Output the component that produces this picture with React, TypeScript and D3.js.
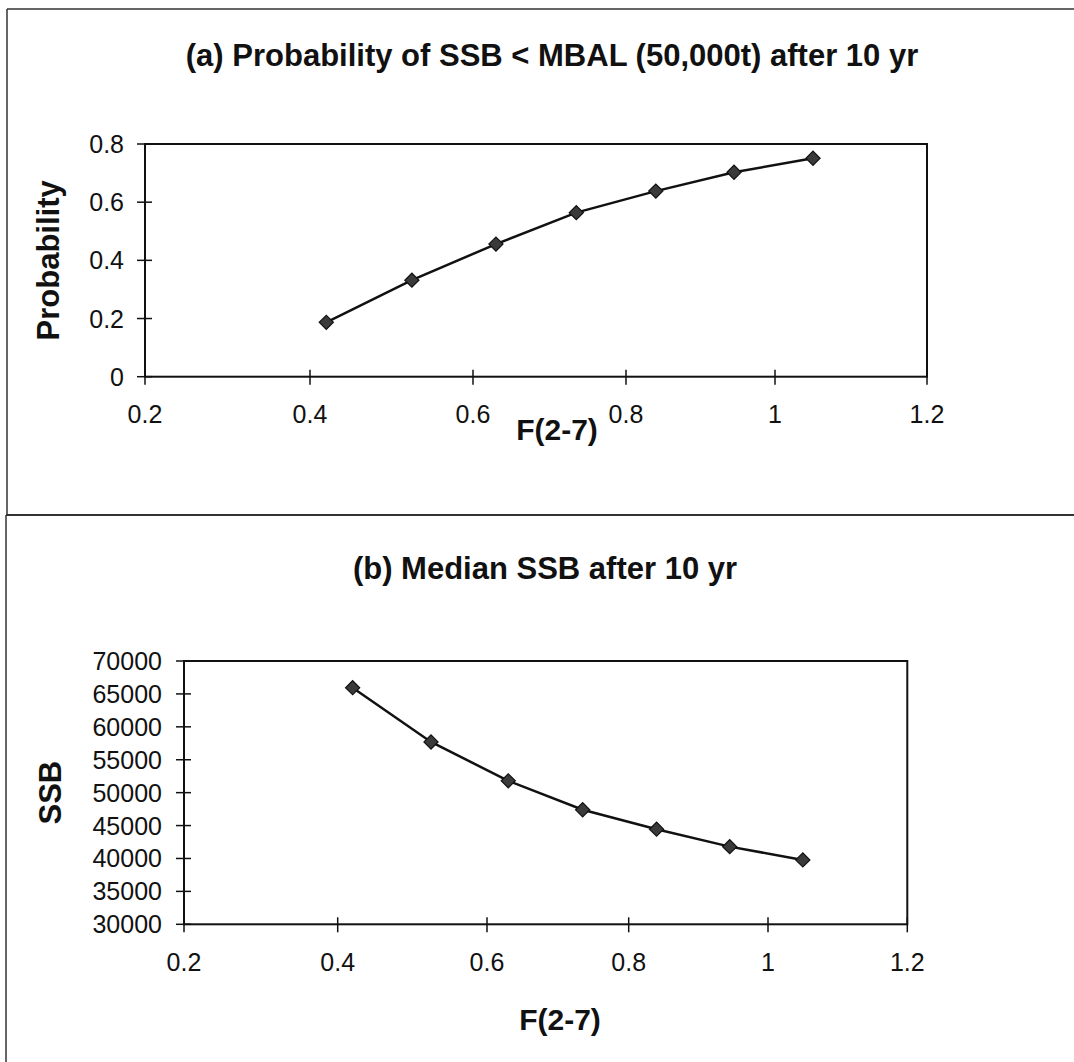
import React from "react";
import * as d3 from "d3";

const fValues = [0.42, 0.525, 0.63, 0.735, 0.84, 0.945, 1.05];
const probValues = [0.187, 0.332, 0.456, 0.564, 0.638, 0.703, 0.751];
const ssbValues = [65950, 57700, 51800, 47400, 44450, 41800, 39780];
const xTicks = [0.2, 0.4, 0.6, 0.8, 1.0, 1.2];
const probTicks = [0, 0.2, 0.4, 0.6, 0.8];
const ssbTicks = [30000, 35000, 40000, 45000, 50000, 55000, 60000, 65000, 70000];
const titleA = "(a) Probability of SSB < MBAL (50,000t) after 10 yr";
const titleB = "(b) Median SSB after 10 yr";
const xLabel = "F(2-7)";
const yLabelA = "Probability";
const yLabelB = "SSB";

const FONT = "'Liberation Sans', Arial, Helvetica, sans-serif";

type PanelProps = {
  title: string;
  titleX: number;
  titleY: number;
  xRange: number[];
  yRange: [number, number];
  yDomain: [number, number];
  yTicks: number[];
  yFmt: (v: number) => string;
  values: number[];
  yLabel: string;
  yLabelX: number;
  tickLabelRight: number;
  xTickBaseline: number;
  xLabelX: number;
  xLabelY: number;
};

function Panel(p: PanelProps) {
  const x = d3.scaleLinear().domain(xTicks).range(p.xRange);
  const y = d3.scaleLinear().domain(p.yDomain).range(p.yRange);
  const left = x(xTicks[0]);
  const right = x(xTicks[xTicks.length - 1]);
  const top = y(p.yDomain[1]);
  const bottom = y(p.yDomain[0]);
  const data = fValues.map((f, i) => [f, p.values[i]] as [number, number]);
  const line = d3.line<[number, number]>().x((d) => x(d[0])).y((d) => y(d[1]));
  const diamond = d3.symbol().type(d3.symbolSquare).size(100)();
  return (
    <g>
      <text x={p.titleX} y={p.titleY} textAnchor="middle" fontFamily={FONT} fontWeight="bold" fontSize={31} fill="#111">
        {p.title}
      </text>
      <rect x={left} y={top} width={right - left} height={bottom - top} fill="none" stroke="#111" strokeWidth={2} />
      {p.yTicks.map((t) => (
        <g key={"y" + t}>
          <line x1={left - 8} x2={left + 7} y1={y(t)} y2={y(t)} stroke="#111" strokeWidth={1.5} />
          <text x={p.tickLabelRight} y={y(t)} dy="0.36em" textAnchor="end" fontFamily={FONT} fontSize={25} fill="#111">
            {p.yFmt(t)}
          </text>
        </g>
      ))}
      {xTicks.map((t) => (
        <g key={"x" + t}>
          <line x1={x(t)} x2={x(t)} y1={bottom - 7} y2={bottom + 8} stroke="#111" strokeWidth={1.5} />
          <text x={x(t)} y={p.xTickBaseline} textAnchor="middle" fontFamily={FONT} fontSize={25} fill="#111">
            {String(t)}
          </text>
        </g>
      ))}
      <path d={line(data) || ""} fill="none" stroke="#111" strokeWidth={2.5} />
      {data.map((d, i) => (
        <path
          key={"m" + i}
          d={diamond || ""}
          transform={`translate(${x(d[0])},${y(d[1])}) rotate(45)`}
          fill="#3a3a3a"
          stroke="#111"
          strokeWidth={1.2}
        />
      ))}
      <text
        transform={`translate(${p.yLabelX},${(top + bottom) / 2}) rotate(-90)`}
        textAnchor="middle"
        fontFamily={FONT}
        fontWeight="bold"
        fontSize={31}
        fill="#111"
      >
        {p.yLabel}
      </text>
      <text x={p.xLabelX} y={p.xLabelY} textAnchor="middle" fontFamily={FONT} fontWeight="bold" fontSize={30} fill="#111">
        {xLabel}
      </text>
    </g>
  );
}

export default function App() {
  return (
    <svg
      width={1074}
      height={1062}
      style={{ position: "absolute", left: 0, top: 0, background: "#fff" }}
    >
      <rect x={0} y={0} width={1074} height={1062} fill="#fff" />
      {/* panel frames */}
      <line x1={7} x2={1074} y1={9} y2={9} stroke="#333" strokeWidth={1.5} />
      <line x1={7} x2={7} y1={9} y2={515} stroke="#333" strokeWidth={1.5} />
      <line x1={6} x2={1074} y1={515} y2={515} stroke="#333" strokeWidth={2} />
      <line x1={6} x2={6} y1={515} y2={1062} stroke="#333" strokeWidth={1.5} />
      <Panel
        title={titleA}
        titleX={552}
        titleY={66}
        xRange={[145, 310, 473, 626, 775, 927]}
        yRange={[376.7, 144]}
        yDomain={[0, 0.8]}
        yTicks={probTicks}
        yFmt={(v) => String(+v.toFixed(1))}
        values={probValues}
        yLabel={yLabelA}
        yLabelX={59}
        tickLabelRight={124}
        xTickBaseline={423}
        xLabelX={557}
        xLabelY={440}
      />
      <Panel
        title={titleB}
        titleX={545}
        titleY={579}
        xRange={[184, 337.7, 487, 628.7, 768, 907.3]}
        yRange={[924.3, 661]}
        yDomain={[30000, 70000]}
        yTicks={ssbTicks}
        yFmt={(v) => String(v)}
        values={ssbValues}
        yLabel={yLabelB}
        yLabelX={61}
        tickLabelRight={162}
        xTickBaseline={971}
        xLabelX={560}
        xLabelY={1030}
      />
    </svg>
  );
}
